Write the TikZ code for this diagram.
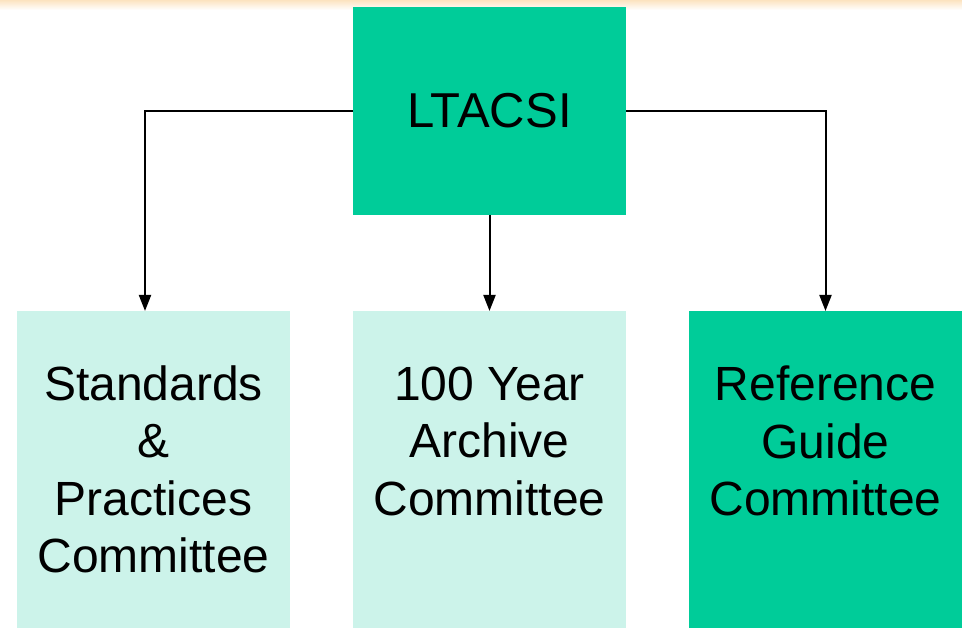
\documentclass[tikz,border=0pt]{standalone}
\usepackage{fontspec}
\setmainfont{Liberation Sans}
\usetikzlibrary{arrows.meta}
\definecolor{topgreen}{HTML}{00CC99}
\definecolor{lightgreen}{HTML}{CCF3EA}
\definecolor{topglow}{HTML}{FCE3C0}
\begin{document}
\begin{tikzpicture}[x=1pt,y=-1pt,
  box/.style={inner sep=0pt, outer sep=0pt, minimum width=273pt, align=center,
     font=\fontsize{48}{57.5}\selectfont, text=black},
  lower/.style={box, minimum height=317pt, anchor=north west},
  conn/.style={line width=2pt, -{Triangle[length=16pt,width=12pt]}}]
\useasboundingbox (0,0) rectangle (962,628);
\fill[white] (0,0) rectangle (962,628);
\shade[top color=topglow, bottom color=white] (0,0) rectangle (962,10);
\node[box, fill=topgreen, minimum height=208pt, anchor=north west,
      font=\fontsize{49}{58}\selectfont] (top) at (353,7) {LTACSI};
\node[lower, fill=lightgreen] (std) at (17,311) {Standards\\\&\\Practices\\Committee};
\node[lower, fill=lightgreen] (arc) at (353,311) {100 Year\\Archive\\Committee\\~};
\node[lower, fill=topgreen] (ref) at (689,311) {Reference\\Guide\\Committee\\~};
\coordinate (stdin) at ([xshift=-8.5pt]std.north);
\draw[conn] (top.west) -| (stdin);
\draw[conn] (top.south) -- (arc.north);
\draw[conn] (top.east) -| (ref.north);
\end{tikzpicture}
\end{document}
